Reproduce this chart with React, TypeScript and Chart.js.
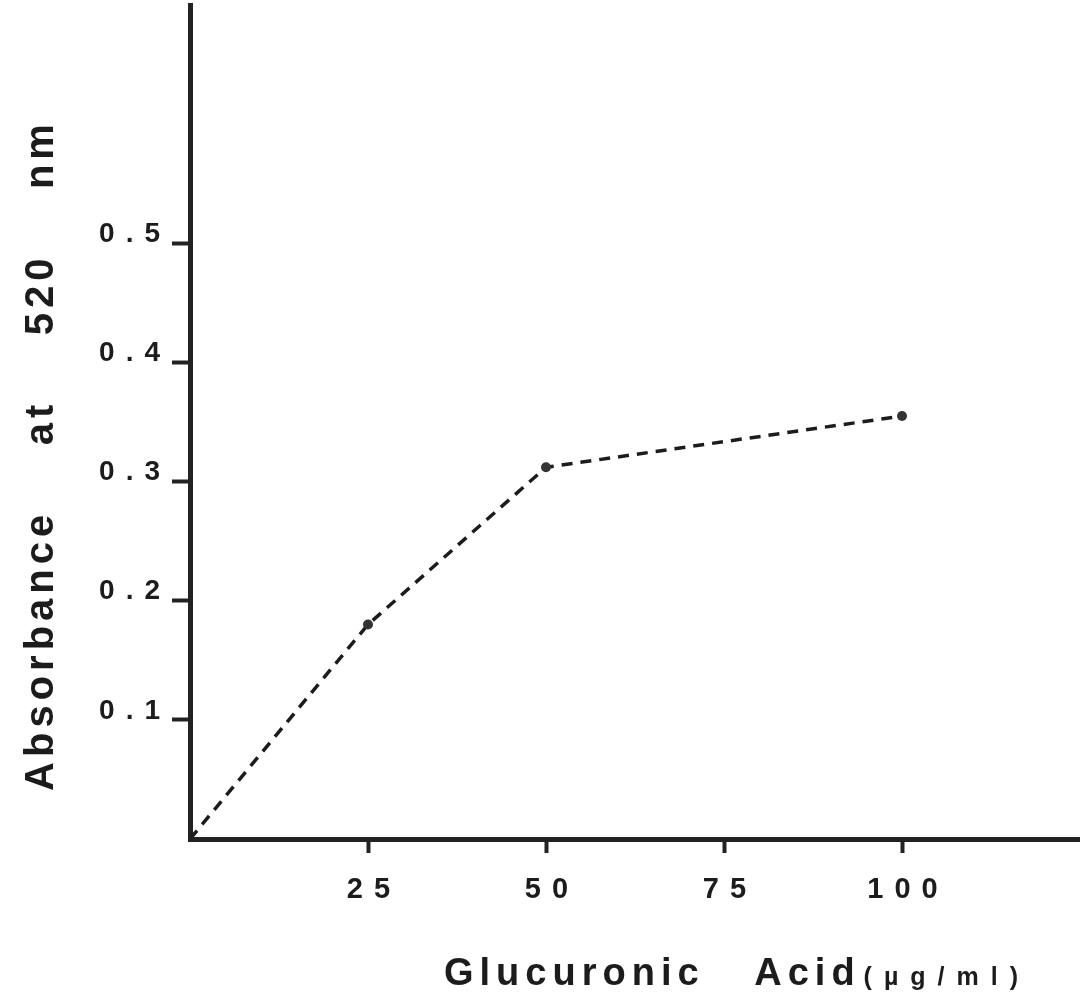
import React, { useEffect, useRef } from "react";
import { Chart, registerables } from "chart.js";

Chart.register(...registerables);

// Glucuronic acid standard curve (absorbance at 520 nm)
const concentrations = [0, 25, 50, 100];
const absorbance = [0, 0.18, 0.312, 0.355];
const markerRadius = [0, 5, 5, 5];

const xTickValues = [25, 50, 75, 100];
const yTickValues = [0.1, 0.2, 0.3, 0.4, 0.5];

const xTitleMain = "Glucuronic   Acid";
const xTitleUnit = "(\u00b5g/ml)";
const yTitle = "Absorbance    at    520    nm";

const INK = "#1c1c1c";
const FONT = "'Liberation Sans', Arial, Helvetica, sans-serif";

const titlePlugin = {
  id: "spacedText",
  beforeDraw(chart: any) {
    chart.ctx.letterSpacing = "11px";
  },
  afterDraw(chart: any) {
    const ctx = chart.ctx as any;
    const area = chart.chartArea;
    ctx.save();
    ctx.fillStyle = INK;

    // vertical axis title
    ctx.letterSpacing = "5px";
    ctx.font = `bold 40px ${FONT}`;
    ctx.textAlign = "center";
    ctx.textBaseline = "alphabetic";
    ctx.save();
    ctx.translate(area.left - 137, area.top + 450);
    ctx.rotate(-Math.PI / 2);
    ctx.fillText(yTitle, 0, 0);
    ctx.restore();

    // horizontal axis title, with a smaller unit after it
    const baseY = area.bottom + 146;
    const startX = area.left + 254;
    ctx.textAlign = "left";
    ctx.letterSpacing = "6px";
    ctx.font = `bold 38px ${FONT}`;
    ctx.fillText(xTitleMain, startX, baseY);
    const mainWidth = ctx.measureText(xTitleMain).width;
    ctx.letterSpacing = "12px";
    ctx.font = `bold 25px ${FONT}`;
    ctx.fillText(xTitleUnit, startX + mainWidth + 3, baseY);

    ctx.restore();
    ctx.letterSpacing = "0px";
  },
};

export default function App() {
  const canvasRef = useRef<HTMLCanvasElement | null>(null);

  useEffect(() => {
    if (!canvasRef.current) return;
    const chart = new Chart(canvasRef.current, {
      type: "line",
      data: {
        datasets: [
          {
            data: concentrations.map((c, i) => ({ x: c, y: absorbance[i] })),
            borderColor: INK,
            borderWidth: 3.5,
            borderDash: [11, 8],
            pointRadius: markerRadius,
            pointHoverRadius: markerRadius,
            pointBackgroundColor: "#333",
            pointBorderWidth: 0,
            tension: 0,
            fill: false,
          },
        ],
      },
      options: {
        responsive: false,
        animation: false,
        devicePixelRatio: 1,
        layout: { autoPadding: false, padding: { top: 5, right: 0, left: 0, bottom: 0 } },
        plugins: {
          legend: { display: false },
          tooltip: { enabled: false },
        },
        scales: {
          x: {
            type: "linear",
            min: 0,
            max: 125,
            afterBuildTicks: (scale: any) => {
              scale.ticks = xTickValues.map((v) => ({ value: v }));
            },
            afterFit: (scale: any) => {
              scale.height = 161;
              scale.paddingLeft = 0;
              scale.paddingRight = 0;
            },
            grid: {
              display: true,
              drawOnChartArea: false,
              drawTicks: true,
              tickLength: 14,
              tickWidth: 4,
              tickColor: "#222",
            },
            border: { display: true, width: 5, color: "#222" },
            ticks: {
              autoSkip: false,
              maxRotation: 0,
              color: INK,
              font: { family: FONT, size: 29, weight: "bold" },
              padding: 20,
              labelOffset: 6,
              callback: (v: any) => String(v),
            },
          },
          y: {
            type: "linear",
            min: 0,
            max: 0.7,
            afterBuildTicks: (scale: any) => {
              scale.ticks = yTickValues.map((v) => ({ value: v }));
            },
            afterFit: (scale: any) => {
              scale.width = 190;
              scale.paddingTop = 0;
              scale.paddingBottom = 0;
            },
            grid: {
              display: true,
              drawOnChartArea: false,
              drawTicks: true,
              tickLength: 18,
              tickWidth: 4,
              tickColor: "#222",
            },
            border: { display: true, width: 5, color: "#222" },
            ticks: {
              autoSkip: false,
              color: INK,
              font: { family: FONT, size: 28, weight: "bold" },
              padding: 1,
              labelOffset: -9,
              callback: (v: any) => Number(v).toFixed(1),
            },
          },
        },
      },
      plugins: [titlePlugin],
    } as any);
    return () => chart.destroy();
  }, []);

  return (
    <div style={{ position: "absolute", left: 0, top: 0, width: 1080, height: 1000 }}>
      <canvas ref={canvasRef} width={1080} height={1000} style={{ display: "block" }} />
    </div>
  );
}
